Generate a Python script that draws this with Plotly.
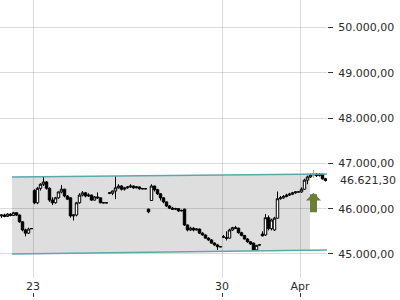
import plotly.graph_objects as go

# ---- data -------------------------------------------------------------
opens = [45840,45860,45830,45880,45850,45910,45860,45710,45530,45460,45560,
         46400,46130,46450,46540,46590,46450,46190,46130,46240,46370,46430,46280,
         46240,45840,45860,46130,46300,46350,46280,46300,46190,46260,46240,46130,46130,
         46340,46340,46390,46460,46500,46430,46460,46480,46500,46460,46480,46440,46440,
         45990,46180,46500,46420,46330,46240,46150,46060,46010,45990,46000,45950,
         45990,45640,45530,45570,45530,45550,45460,45420,45350,45310,45240,45200,45160,
         45370,45360,45350,45530,45580,45570,45470,45410,45330,45270,45240,45090,45200,
         45440,45420,45800,45560,45530,45790,46220,46240,46270,46300,46320,46350,46370,
         46370,46430,46630,46700,46740,46760,46730,46760,46660]
highs = [45880,45890,45900,45900,45930,45920,45870,45720,45560,45580,45570,
         46430,46480,46560,46720,46610,46470,46250,46260,46380,46520,46440,46300,
         46250,45880,46150,46340,46390,46370,46340,46310,46280,46360,46240,46140,46140,
         46360,46400,46720,46540,46520,46480,46500,46540,46510,46500,46490,46450,46450,
         46000,46540,46510,46440,46340,46250,46160,46080,46040,46020,46010,45980,
         46000,45650,45600,45590,45570,45560,45480,45430,45370,45330,45260,45220,45160,
         45420,45500,45560,45600,45620,45580,45490,45420,45350,45280,45250,45200,45210,
         45500,45880,45850,45780,45820,46380,46280,46300,46330,46350,46370,46380,46380,
         46470,46660,46730,46780,46850,46790,46780,46770,46680]
lows = [45800,45810,45820,45830,45840,45840,45690,45500,45390,45440,45550,
        46100,46100,46400,46500,46420,46150,46080,46110,46220,46340,46250,46190,
        45800,45740,45830,46110,46270,46250,46260,46170,46180,46220,46120,46120,46120,
        46320,46300,46210,46440,46400,46400,46440,46460,46440,46450,46420,46430,46430,
        45900,46170,46380,46300,46180,46120,46040,45990,45980,45970,45930,45940,
        45620,45500,45510,45500,45520,45440,45400,45340,45290,45230,45180,45090,45150,
        45350,45300,45340,45510,45550,45450,45390,45320,45250,45200,45080,45080,45190,
        45390,45400,45520,45520,45510,45780,46200,46220,46250,46280,46300,46330,46360,
        46350,46420,46540,46680,46690,46700,46710,46640,46600]
closes = [45860,45830,45880,45850,45910,45860,45710,45530,45460,45550,45560,
          46130,46450,46540,46590,46450,46190,46130,46240,46370,46430,46280,46210,
          45840,45860,46130,46300,46350,46280,46300,46190,46260,46240,46130,46130,46130,
          46350,46390,46460,46500,46430,46460,46480,46500,46460,46480,46440,46440,46440,
          45930,46500,46420,46330,46240,46150,46060,46010,45990,46000,45950,45960,
          45640,45530,45570,45530,45550,45460,45420,45350,45310,45240,45200,45160,45160,
          45380,45350,45530,45580,45570,45470,45410,45330,45270,45220,45090,45190,45200,
          45400,45800,45560,45750,45790,46220,46240,46270,46300,46320,46350,46370,46370,
          46430,46630,46700,46740,46760,46730,46760,46660,46621.30]

# day labels placed at session boundaries (candle index units)
tick_pos = [10.5, 73.5, 99.5]
tick_text = ["23", "30", "Apr"]

# trend channel (start / end in candle index, prices)
chan_x = [3.5, 108.5]
chan_top = [46700, 46766]
chan_bot = [45000, 45088]
fill_x = [3.5, 102.8, 102.8, 3.5]
fill_y = [46700, 46762, 45083, 45000]

# highlighted signal candle and buy arrow
signal_idx = 104
arrow_tip = 46350

y_ticks = [45000, 46000, 47000, 48000, 49000, 50000]

idx = list(range(len(closes)))

FONT = "DejaVu Sans"
TXT = "#2b2b2b"
GRID = "rgba(0,0,0,0.14)"

fig = go.Figure()

band_path = "M " + " L ".join(f"{x},{y}" for x, y in zip(fill_x, fill_y)) + " Z"
fig.add_shape(type="path", path=band_path, xref="x", yref="y",
              fillcolor="#dedede", line=dict(width=0), layer="below")

fig.add_trace(go.Candlestick(
    x=idx, open=opens, high=highs, low=lows, close=closes,
    increasing=dict(line=dict(color="black", width=1), fillcolor="white"),
    decreasing=dict(line=dict(color="black", width=1), fillcolor="black"),
    whiskerwidth=0, showlegend=False))

s = signal_idx
fig.add_trace(go.Candlestick(
    x=[idx[s] - 1, idx[s], idx[s] + 1],
    open=[None, opens[s], None], high=[None, highs[s], None],
    low=[None, lows[s], None], close=[None, closes[s], None],
    increasing=dict(line=dict(color="#a9b867", width=1), fillcolor="#c8d38c"),
    decreasing=dict(line=dict(color="#a9b867", width=1), fillcolor="#c8d38c"),
    whiskerwidth=0, showlegend=False))

fig.add_trace(go.Scatter(x=chan_x, y=chan_top, mode="lines",
                         line=dict(color="#5ea6aa", width=1.5), showlegend=False))
fig.add_trace(go.Scatter(x=chan_x, y=chan_bot, mode="lines",
                         line=dict(color="#5ea6aa", width=1.5), showlegend=False))

# dummy trace for secondary x axis (tick marks under labels)
fig.add_trace(go.Scatter(x=[idx[0]], y=[closes[0]], xaxis="x2", mode="none",
                         showlegend=False, hoverinfo="skip"))

fig.add_annotation(x=idx[s], y=arrow_tip, xref="x", yref="y", text="",
                   showarrow=True, ax=0, ay=21, arrowhead=1, arrowwidth=7,
                   arrowsize=0.36, arrowcolor="#6d7e36", standoff=0)

fig.add_annotation(x=1, xref="paper", y=closes[-1], yref="y",
                   text=f"{closes[-1]:,.2f}".replace(",", "X").replace(".", ",").replace("X", "."),
                   showarrow=False, xanchor="left", xshift=11,
                   font=dict(family=FONT, size=11, color=TXT))

fig.update_layout(
    width=400, height=300,
    margin=dict(l=0, r=73, t=0, b=3),
    paper_bgcolor="white", plot_bgcolor="white",
    separators=",.",
    boxgap=0.1, boxgroupgap=0.1,
    font=dict(family=FONT, size=11, color=TXT),
    xaxis=dict(range=[-0.5, 108.5], tickvals=tick_pos, ticktext=tick_text,
               showgrid=True, gridcolor=GRID, gridwidth=1, zeroline=False,
               showline=False, ticks="", rangeslider=dict(visible=False),
               fixedrange=True),
    xaxis2=dict(range=[-0.5, 108.5], tickvals=tick_pos, showticklabels=False,
                overlaying="x", anchor="free", position=0, side="bottom",
                ticks="inside", ticklen=4, tickcolor="#333", showgrid=False,
                zeroline=False, showline=False),
    yaxis=dict(range=[44470, 50607], side="right", tickvals=y_ticks,
               tickformat=",.2f", showgrid=True, gridcolor=GRID,
               zeroline=False, showline=False, ticks="outside", ticklen=5,
               tickcolor="#333", ticklabelstandoff=3, domain=[0.064, 1]),
)

fig.write_html("out.html")
